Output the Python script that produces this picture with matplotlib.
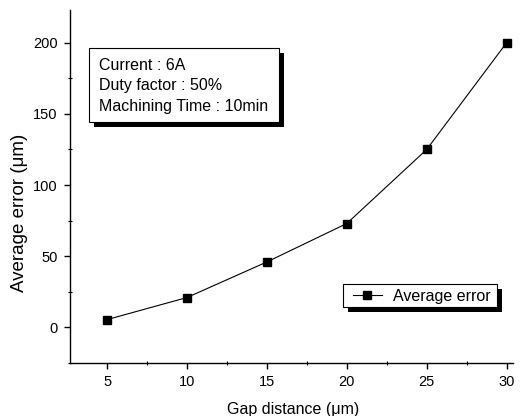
import matplotlib
matplotlib.use("Agg")
import matplotlib.pyplot as plt
from matplotlib.patches import Rectangle
from matplotlib.ticker import MultipleLocator

plt.rcParams['font.family'] = ['Liberation Sans', 'DejaVu Sans']

gap = [5, 10, 15, 20, 25, 30]
avg_error = [5.5, 21, 46, 73, 125, 200]
info_lines = ["Current : 6A", "Duty factor : 50%", "Machining Time : 10min"]

W, H = 521, 416
fig = plt.figure(figsize=(W / 100, H / 100), dpi=100)
ax = fig.add_axes([70.3 / W, 53 / H, 442.7 / W, 353 / H])

line, = ax.plot(gap, avg_error, color='black', lw=0.8, marker='s', ms=5.8,
                label='Average error')

ax.set_xlim(2.7, 30.4)
ax.set_ylim(-25, 223)
ax.xaxis.set_major_locator(MultipleLocator(5))
ax.xaxis.set_minor_locator(MultipleLocator(2.5))
ax.yaxis.set_major_locator(MultipleLocator(50))
ax.yaxis.set_minor_locator(MultipleLocator(25))
for s in ['top', 'right']:
    ax.spines[s].set_visible(False)
for s in ['left', 'bottom']:
    ax.spines[s].set_linewidth(1.0)
ax.tick_params(which='major', direction='out', length=4, width=1.0,
               labelsize=10.5, pad=5)
ax.tick_params(which='minor', direction='inout', length=3, width=0.8)

ax.set_xlabel('Gap distance (\u03bcm)', fontsize=11.5)
ax.set_ylabel('Average error (\u03bcm)', fontsize=13.5)
ax.xaxis.set_label_coords(0.503, -0.110)
ax.yaxis.set_label_coords(-0.095, 0.425)


def boxed(x0, y0, x1, y1, off=5):
    # black shadow then white box, pixel coords from top-left
    fig.patches.append(Rectangle((x0 + off, H - y1 - off), x1 - x0, y1 - y0,
                                 transform=None, facecolor='black',
                                 edgecolor='black', lw=0, zorder=1))
    fig.patches.append(Rectangle((x0, H - y1), x1 - x0, y1 - y0,
                                 transform=None, facecolor='white',
                                 edgecolor='black', lw=0.8, zorder=2))


# info box
boxed(89, 48, 279, 122)
fig.text(99 / W, 1 - 58 / H, "\n".join(info_lines), fontsize=11.5,
         va='top', ha='left', linespacing=1.45, zorder=3)

# legend box
boxed(343, 284, 497, 307)
leg = fig.legend(handles=[line], loc='center left',
                 bbox_to_anchor=(353 / W, 1 - 296 / H), fontsize=11.5,
                 frameon=False, handlelength=1.8, handletextpad=0.7,
                 borderpad=0, borderaxespad=0)
leg.set_zorder(4)

fig.savefig('out.png', dpi=100)
